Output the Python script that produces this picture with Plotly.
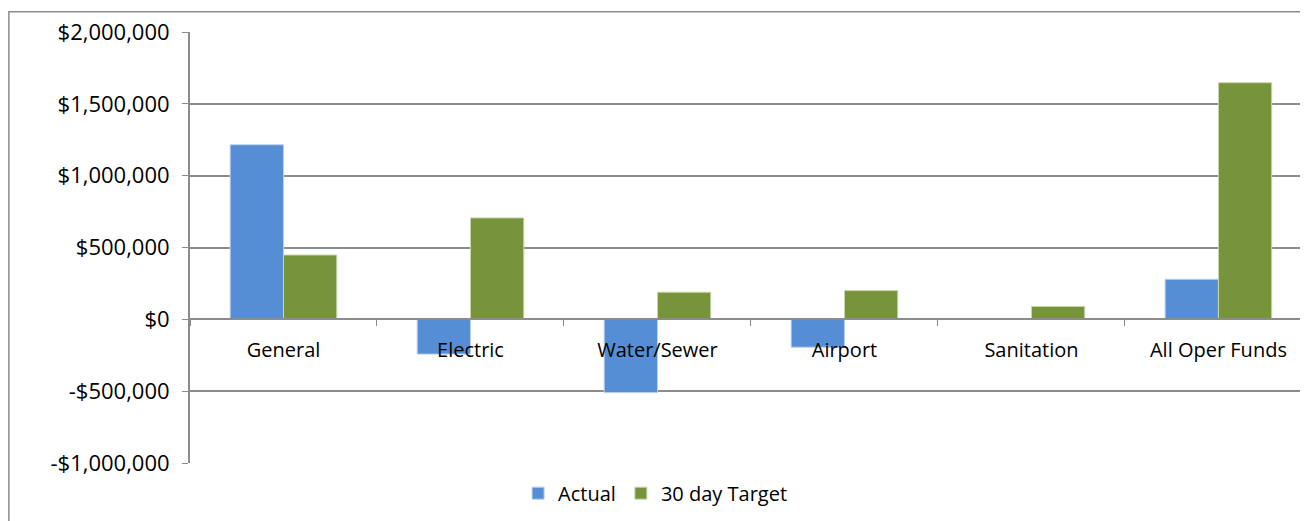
import plotly.graph_objects as go

categories = ["General", "Electric", "Water/Sewer", "Airport", "Sanitation", "All Oper Funds"]
actual = [1215000, -242000, -510000, -194000, 3000, 279000]
target = [448000, 706000, 189000, 200000, 90000, 1647000]

tick_vals = [-1000000, -500000, 0, 500000, 1000000, 1500000, 2000000]
tick_text = ["-$1,000,000", "-$500,000", "$0", "$500,000", "$1,000,000", "$1,500,000", "$2,000,000"]

FONT = "Open Sans"
GRID = "#8c8c8c"

fig = go.Figure()
fig.add_trace(go.Bar(x=categories, y=actual, name="Actual",
                     marker=dict(color="#558ed5", line=dict(color="#b9cfee", width=1))))
fig.add_trace(go.Bar(x=categories, y=target, name="30 day Target",
                     marker=dict(color="#77933c", line=dict(color="#c9d8ad", width=1))))

# zero line sits at this fraction of the plot height
zero_pos = 1000000 / 3000000

# page body has an 8px margin, so the margins below are offset by it
fig.update_layout(
    width=1308, height=521,
    margin=dict(l=182, r=8, t=21, b=66),
    paper_bgcolor="white", plot_bgcolor="white",
    font=dict(family=FONT, size=20, color="#000000"),
    barmode="group", bargap=0.43, bargroupgap=0,
    showlegend=True,
    legend=dict(orientation="h", x=0.416, xanchor="center", y=-0.07, yanchor="middle",
                font=dict(size=20), itemwidth=30, traceorder="normal"),
    xaxis=dict(range=[-0.5, 5.479], anchor="free", position=zero_pos,
               showline=True, linecolor=GRID, linewidth=2,
               ticks="outside", tickson="boundaries", ticklen=6, tickcolor=GRID, tickwidth=1,
               ticklabelstandoff=13, showgrid=False, zeroline=False),
    yaxis=dict(range=[-1000000, 2000000], tickvals=tick_vals, ticktext=tick_text,
               tickfont=dict(size=22), ticklabelstandoff=8,
               showline=True, linecolor=GRID, linewidth=2,
               ticks="outside", ticklen=6, tickcolor=GRID,
               showgrid=True, gridcolor=GRID, gridwidth=1.5, zeroline=False),
    shapes=[dict(type="rect", xref="paper", yref="paper",
                 x0=-0.162, x1=1.02, y0=-0.3, y1=1.047,
                 line=dict(color="#8c8c8c", width=1.5), fillcolor="rgba(0,0,0,0)")],
)

fig.write_html("out.html")
